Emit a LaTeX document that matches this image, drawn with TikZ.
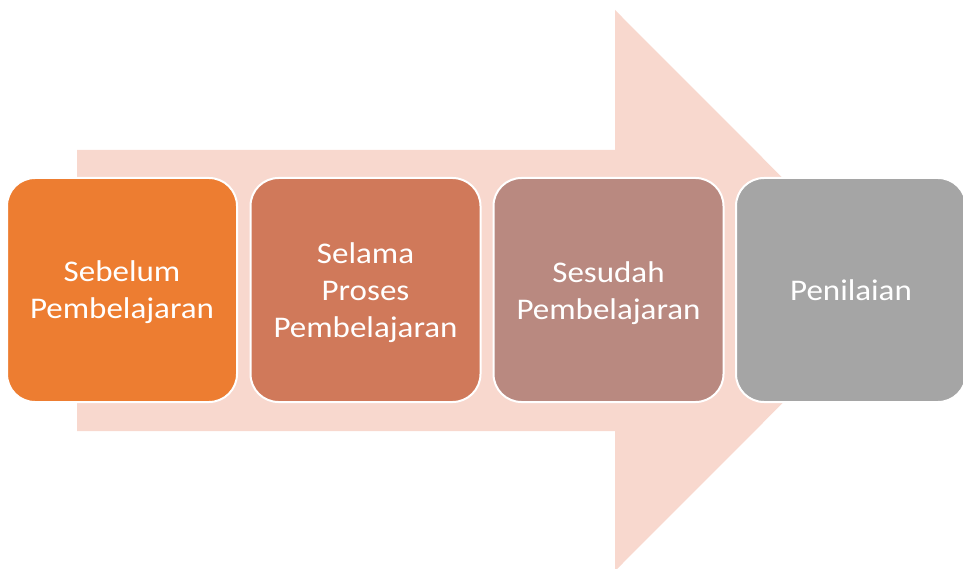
\documentclass[tikz,border=0pt]{standalone}
\usepackage{fontspec}
\setmainfont[FakeStretch=1.1]{Carlito}
\definecolor{arrowc}{HTML}{F8D8CE}
\definecolor{cA}{HTML}{ED7D31}
\definecolor{cB}{HTML}{D0795A}
\definecolor{cC}{HTML}{B98980}
\definecolor{cD}{HTML}{A5A5A5}
\begin{document}
\begin{tikzpicture}[x=1pt,y=-1pt,
  stagebox/.style={draw=white,line width=2pt,rounded corners=28pt,
    minimum width=230pt,minimum height=224pt,inner sep=0pt},
  stagetext/.style={text=white,align=center,inner sep=0pt,
    font=\fontsize{30}{37}\selectfont}]
\useasboundingbox (0,0) rectangle (963,569);
\fill[arrowc] (77,150) -- (615,150) -- (615,10) -- (895,290.5)
  -- (615,571) -- (615,431) -- (77,431) -- cycle;
\node[stagebox,fill=cA] (s1) at (122,290) {};
\node[stagebox,fill=cB] (s2) at (365.5,290) {};
\node[stagebox,fill=cC] (s3) at (608.5,290) {};
\node[stagebox,fill=cD] (s4) at (851,290) {};
\node[stagetext] (t1) at ([yshift=-2.5pt]s1.center) {Sebelum\\Pembelajaran};
\node[stagetext] (t2) at ([yshift=-3pt]s2.center) {Selama\\Proses\\Pembelajaran};
\node[stagetext] (t3) at ([yshift=-3pt]s3.center) {Sesudah\\Pembelajaran};
\node[stagetext] (t4) at ([yshift=-0.5pt]s4.center) {Penilaian};
\end{tikzpicture}
\end{document}
